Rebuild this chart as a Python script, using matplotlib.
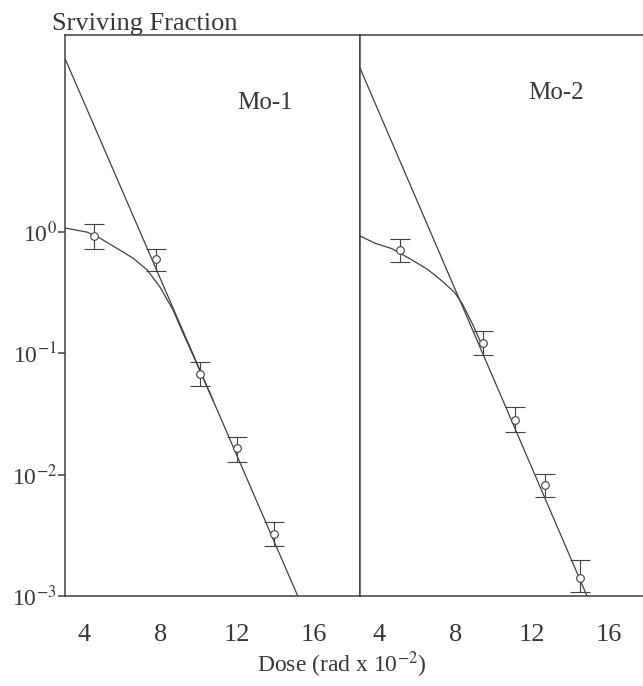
import matplotlib
matplotlib.use("Agg")
import matplotlib.pyplot as plt

plt.rcParams["font.family"] = ["Liberation Serif", "DejaVu Serif"]
plt.rcParams["mathtext.fontset"] = "stix"

# dose (rad x 10^-2) and surviving fraction with error bar limits
mo1_dose = [4.51, 7.75, 10.05, 11.98, 13.91]
mo1_sf = [0.93, 0.60, 0.0676, 0.0166, 0.00324]
mo1_hi = [1.17, 0.73, 0.085, 0.0205, 0.00407]
mo1_lo = [0.73, 0.48, 0.0538, 0.0127, 0.00258]

mo2_dose = [5.09, 9.42, 11.09, 12.66, 14.48]
mo2_sf = [0.71, 0.122, 0.0282, 0.00822, 0.00141]
mo2_hi = [0.88, 0.153, 0.0361, 0.0101, 0.00198]
mo2_lo = [0.57, 0.097, 0.0225, 0.00655, 0.00108]

# fitted curves (shoulder) and extrapolated exponential lines
mo1_fit_dose = [3.0, 4.15, 4.83, 5.87, 6.55, 7.28, 7.96, 8.64, 9.16, 9.68, 10.72]
mo1_fit_sf = [1.08, 1.0, 0.89, 0.71, 0.61, 0.49, 0.352, 0.228, 0.147, 0.097, 0.0413]
mo1_line_dose = [3.0, 15.15]
mo1_line_sf = [27.0, 1.0e-3]

mo2_fit_dose = [3.0, 3.78, 4.67, 5.71, 6.55, 7.33, 7.96, 8.32, 8.64, 8.90, 9.42]
mo2_fit_sf = [0.93, 0.81, 0.73, 0.59, 0.49, 0.39, 0.315, 0.26, 0.207, 0.171, 0.112]
mo2_line_dose = [3.0, 14.85]
mo2_line_sf = [22.5, 1.0e-3]

xticks = [4, 8, 12, 16]
yticks = [1e0, 1e-1, 1e-2, 1e-3]
ytick_labels = ["10$^{0}$", "10$^{-1}$", "10$^{-2}$", "10$^{-3}$"]

ink = "#404040"
text_ink = "#383838"

W, H = 643, 686
fig = plt.figure(figsize=(W / 100, H / 100), dpi=100)
left1, left2, right, top, bottom = 65, 360, 655, 35, 596
ax1 = fig.add_axes([left1 / W, 1 - bottom / H, (left2 - left1) / W, (bottom - top) / H])
ax2 = fig.add_axes([left2 / W, 1 - bottom / H, (right - left2) / W, (bottom - top) / H])

panels = [
    (ax1, mo1_dose, mo1_sf, mo1_hi, mo1_lo, mo1_fit_dose, mo1_fit_sf, mo1_line_dose, mo1_line_sf),
    (ax2, mo2_dose, mo2_sf, mo2_hi, mo2_lo, mo2_fit_dose, mo2_fit_sf, mo2_line_dose, mo2_line_sf),
]

for ax, d, s, hi, lo, fd, fs, ld, ls in panels:
    ax.set_yscale("log")
    ax.set_xlim(3.0, 18.4)
    ax.set_ylim(1e-3, 10 ** 1.625)
    ax.plot(ld, ls, color=ink, lw=0.9)
    ax.plot(fd, fs, color=ink, lw=0.9)
    err = [[v - l for v, l in zip(s, lo)], [h - v for v, h in zip(s, hi)]]
    ax.errorbar(d, s, yerr=err, fmt="o", ms=5.5, mfc="white", mec=ink, mew=0.8,
                ecolor=ink, elinewidth=0.8, capsize=7, capthick=0.9)
    for side in ["left", "top", "bottom", "right"]:
        ax.spines[side].set_color(ink)
        ax.spines[side].set_linewidth(1.1)
    ax.set_xticks(xticks)
    ax.set_xticklabels([str(t) for t in xticks])
    ax.tick_params(axis="x", length=0, pad=20, labelsize=19, colors=text_ink)
    ax.yaxis.set_minor_locator(matplotlib.ticker.NullLocator())
    ax.set_yticks(yticks)

ax1.set_yticklabels(ytick_labels)
ax1.tick_params(axis="y", length=5, width=1.1, color=ink, pad=1, labelsize=17, labelcolor=text_ink)
ax2.tick_params(axis="y", length=0, labelleft=False)

ax1.text(265 / W, 1 - 103 / H, "Mo-1", transform=fig.transFigure, fontsize=18,
         color=text_ink, ha="center", va="center")
ax2.text(556 / W, 1 - 93 / H, "Mo-2", transform=fig.transFigure, fontsize=18,
         color=text_ink, ha="center", va="center")

fig.text(52 / W, 1 - 30 / H, "Srviving Fraction", fontsize=19, color=text_ink, ha="left", va="baseline")
fig.text(342 / W, 1 - 672 / H, "Dose (rad x 10$^{-2}$)", fontsize=17, color=text_ink, ha="center", va="baseline")

fig.savefig("out.png", dpi=100, facecolor="white")
